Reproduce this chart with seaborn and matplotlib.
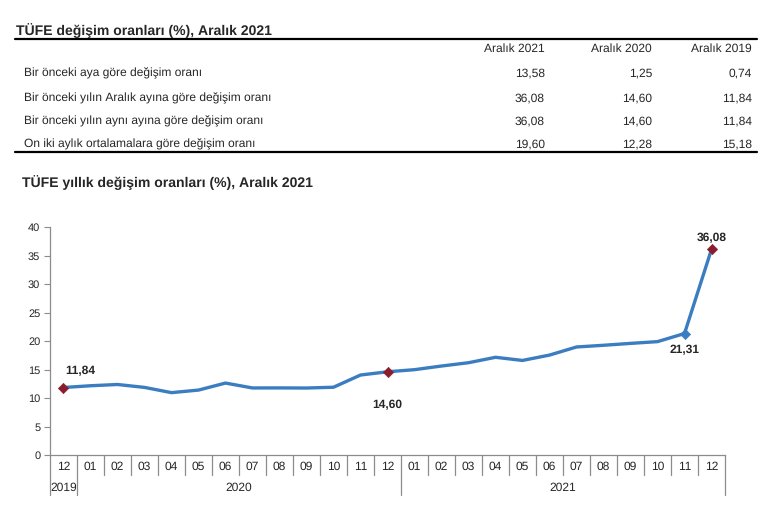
import numpy as np
import pandas as pd
import matplotlib
matplotlib.use("Agg")
import matplotlib.pyplot as plt
import seaborn as sns

# Table data
table_title = "TÜFE değişim oranları (%), Aralık 2021"
col_headers = ["Aralık 2021", "Aralık 2020", "Aralık 2019"]
row_labels = [
    "Bir önceki aya göre değişim oranı",
    "Bir önceki yılın Aralık ayına göre değişim oranı",
    "Bir önceki yılın aynı ayına göre değişim oranı",
    "On iki aylık ortalamalara göre değişim oranı",
]
row_values = [
    ["13,58", "1,25", "0,74"],
    ["36,08", "14,60", "11,84"],
    ["36,08", "14,60", "11,84"],
    ["19,60", "12,28", "15,18"],
]

# Chart data
chart_title = "TÜFE yıllık değişim oranları (%), Aralık 2021"
months = ["12", "01", "02", "03", "04", "05", "06", "07", "08", "09", "10", "11", "12",
          "01", "02", "03", "04", "05", "06", "07", "08", "09", "10", "11", "12"]
years = ["2019"] + ["2020"] * 12 + ["2021"] * 12
annual_rate = [11.84, 12.15, 12.37, 11.86, 10.94, 11.39, 12.62, 11.76, 11.77, 11.75,
               11.89, 14.03, 14.60, 14.97, 15.61, 16.19, 17.14, 16.59, 17.53, 18.95,
               19.25, 19.58, 19.89, 21.31, 36.08]
red_points = [0, 12, 24]
blue_points = [23]

W, H = 774, 505
LINE = "#3B7DC1"
RED = "#8B1C2C"
GRAY = "#8C8C8C"

sns.set_style("white")
plt.rcParams["font.family"] = ["Liberation Sans", "DejaVu Sans"]
plt.rcParams["text.hinting"] = "no_hinting"
plt.rcParams["text.hinting_factor"] = 1

fig = plt.figure(figsize=(W / 100, H / 100), dpi=100)


def fy(py):
    return 1 - py / H


def fx(px):
    return px / W


# --- Table on top ---
fig.text(fx(16), fy(35), table_title, fontsize=10, fontweight="bold", va="baseline", ha="left")
fig.add_artist(plt.Line2D([fx(15), fx(757)], [fy(39), fy(39)], color="black", lw=1.6))
col_x = [545, 652, 752]
for cx, h in zip(col_x, col_headers):
    fig.text(fx(cx), fy(52), h, fontsize=8.8, ha="right", va="baseline")
row_y = [76, 101, 124, 147]
for ry, lab, vals in zip(row_y, row_labels, row_values):
    fig.text(fx(24), fy(ry), lab, fontsize=8.8, ha="left", va="baseline")
    for cx, v in zip(col_x, vals):
        fig.text(fx(cx), fy(ry), v, fontsize=8.8, ha="right", va="baseline")
fig.add_artist(plt.Line2D([fx(15), fx(757)], [fy(152), fy(152)], color="black", lw=1.6))

# --- Line chart ---
fig.text(fx(22), fy(183), chart_title, fontsize=10, fontweight="bold", va="center", ha="left")

ax_left, ax_right, ax_top, ax_bot = 50, 725, 227, 455
ax = fig.add_axes([fx(ax_left), fy(ax_bot), fx(ax_right - ax_left), (ax_bot - ax_top) / H])

df = pd.DataFrame({"idx": np.arange(len(annual_rate)), "rate": annual_rate})
sns.lineplot(data=df, x="idx", y="rate", ax=ax, color=LINE, lw=2.4)
sns.scatterplot(data=df.iloc[red_points], x="idx", y="rate", ax=ax, color=RED,
                marker="D", s=28, edgecolor=RED, zorder=5)
sns.scatterplot(data=df.iloc[blue_points], x="idx", y="rate", ax=ax, color=LINE,
                marker="D", s=28, edgecolor=LINE, zorder=5)

ax.set_xlim(-0.5, len(months) - 0.5)
ax.set_ylim(0, 40)
ax.set_yticks(range(0, 41, 5))
ax.set_xticks([])
ax.set_xlabel("")
ax.set_ylabel("")
ax.tick_params(axis="y", length=4, color=GRAY, labelsize=8, pad=3, left=True)
for s in ["top", "right"]:
    ax.spines[s].set_visible(False)
for s in ["left", "bottom"]:
    ax.spines[s].set_color(GRAY)
    ax.spines[s].set_linewidth(0.9)

# value labels
def label(i, dx, dy):
    ax.annotate(f"{annual_rate[i]:.2f}".replace(".", ","), (i, annual_rate[i]),
                xytext=(dx, dy), textcoords="offset points", ha="center", va="center",
                fontsize=8.5, fontweight="bold")

label(0, 12, 12)
label(12, 0, -24)
label(23, 0, -12)
label(24, 0, 8)

# category axis: month labels, separators, year groups
trans = ax.get_xaxis_transform()
ax_h = ax_bot - ax_top
sep_short = -20 / ax_h
sep_long = -40 / ax_h
for i, m in enumerate(months):
    ax.text(i, -12 / ax_h, m, transform=trans, ha="center", va="center", fontsize=8.3)
group_edges = [-0.5, 0.5, 12.5, len(months) - 0.5]
for k in range(len(months) + 1):
    xpos = k - 0.5
    y_end = sep_long if xpos in group_edges else sep_short
    ax.plot([xpos, xpos], [0, y_end], transform=trans, color=GRAY, lw=0.9, clip_on=False)
for a, b in zip(group_edges[:-1], group_edges[1:]):
    mid = (a + b) / 2
    ax.text(mid, -33 / ax_h, years[int(np.ceil(a))], transform=trans, ha="center",
            va="center", fontsize=8.3)

fig.savefig("out.png", dpi=100)
